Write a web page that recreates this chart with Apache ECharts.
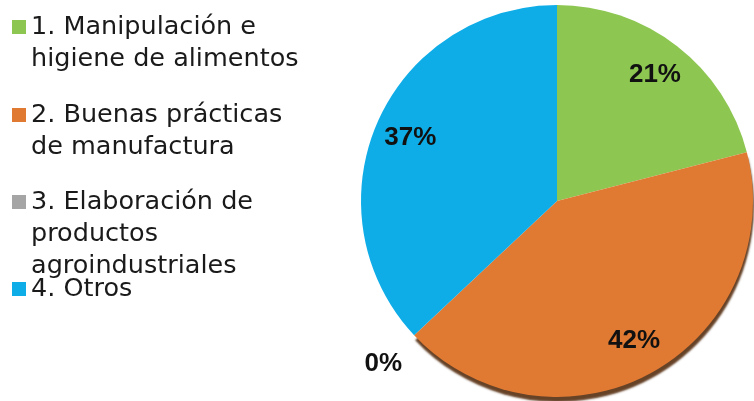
<!DOCTYPE html>
<html>
<head>
<meta charset="utf-8">
<script src="https://cdn.jsdelivr.net/npm/echarts@6/dist/echarts.min.js"></script>
<style>
  html, body { margin: 0; padding: 0; background: #fff; }
  #chart { width: 754px; height: 401px; }
</style>
</head>
<body>
<div id="chart"></div>
<script>
// data
const categories = [
  '1. Manipulación e\nhigiene de alimentos',
  '2. Buenas prácticas\nde manufactura',
  '3. Elaboración de\nproductos\nagroindustriales',
  '4. Otros'
]
const values = [21, 42, 0, 37]

const colors = ['#8DC651', '#E07A33', '#A5A5A5', '#0EADE8']
const legendRowY = [27, 115, 202, 289] // centre of first text line
const lineH = 32
const center = [557, 201]
const radius = 196

const chart = echarts.init(document.getElementById('chart'))

// one legend per entry; empty leading lines keep the icon on the first text line
const legends = categories.map((name, i) => {
    const lines = name.split('\n').length
    const outer = (2 * lines - 1) * lineH
    return {
        orient: 'vertical',
        left: 7,
        top: legendRowY[i] - 5 - outer / 2,
        padding: 5,
        selectedMode: false,
        icon: 'rect',
        itemWidth: 14,
        itemHeight: 14,
        data: [name],
        formatter: n => ' \n'.repeat(lines - 1) + n,
        textStyle: {
            fontFamily: 'DejaVu Sans',
            fontSize: 25.5,
            lineHeight: lineH,
            color: '#1a1a1a'
        }
    }
})

const pieData = categories.map((name, i) => ({
    name: name,
    value: values[i],
    itemStyle: {
        color: colors[i],
        // dark rim under the orange slice, like the 3D edge in the original
        shadowColor: i === 1 ? 'rgba(85,45,15,0.9)' : 'transparent',
        shadowBlur: 2,
        shadowOffsetY: 5,
        shadowOffsetX: 1
    }
}))

const labelStyle = {
    position: 'inside',
    formatter: '{d}%',
    fontFamily: 'Liberation Sans',
    fontWeight: 'bold',
    fontSize: 26,
    color: '#111'
}

// transparent rings only used to place the percentage labels
function labelRing(r, pick) {
    return {
        type: 'pie',
        center: center,
        radius: r,
        silent: true,
        animation: false,
        emphasis: { disabled: true },
        itemStyle: { color: 'rgba(0,0,0,0)' },
        labelLine: { show: false },
        label: labelStyle,
        data: categories.map((name, i) => ({
            name: name,
            value: values[i],
            label: { show: pick(values[i]) }
        }))
    }
}

chart.setOption({
    backgroundColor: '#fff',
    legend: legends,
    series: [
        {
            type: 'pie',
            center: center,
            radius: radius,
            startAngle: 90,
            clockwise: true,
            animation: false,
            silent: true,
            label: { show: false },
            labelLine: { show: false },
            data: pieData
        },
        labelRing(radius * 1.6, v => v > 0),
        labelRing(radius * 2.4, v => v === 0)
    ]
})
</script>
</body>
</html>
